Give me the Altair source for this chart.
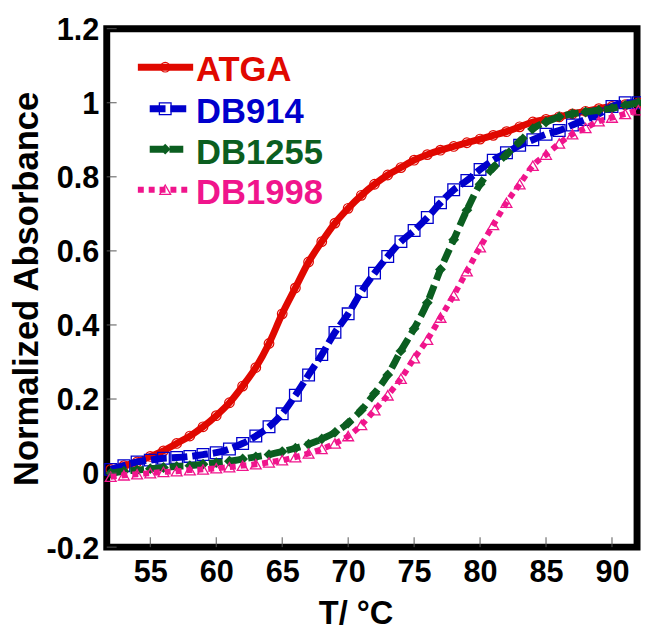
import altair as alt
import pandas as pd

# ---------------- data ----------------
temps = list(range(52, 93))
atga = [0.01, 0.02, 0.03, 0.045, 0.06, 0.08, 0.10, 0.125, 0.155, 0.19,
        0.235, 0.285, 0.35, 0.43, 0.50, 0.57, 0.625, 0.675, 0.715, 0.75,
        0.78, 0.805, 0.825, 0.845, 0.86, 0.872, 0.882, 0.892, 0.902, 0.912,
        0.922, 0.935, 0.948, 0.955, 0.962, 0.97, 0.977, 0.984, 0.99, 0.995, 1.0]
db914 = [0.01, 0.02, 0.03, 0.035, 0.04, 0.042, 0.045, 0.05, 0.055, 0.065,
         0.08, 0.10, 0.125, 0.16, 0.21, 0.265, 0.32, 0.38, 0.43, 0.49,
         0.54, 0.585, 0.625, 0.655, 0.69, 0.73, 0.765, 0.79, 0.82, 0.845,
         0.865, 0.885, 0.90, 0.915, 0.925, 0.94, 0.955, 0.97, 0.99, 1.0, 1.0]
db1255 = [0.0, 0.005, 0.008, 0.012, 0.015, 0.018, 0.02, 0.024, 0.028, 0.032,
          0.038, 0.044, 0.05, 0.058, 0.067, 0.078, 0.092, 0.11, 0.135, 0.17,
          0.215, 0.265, 0.33, 0.39, 0.46, 0.55, 0.63, 0.71, 0.78, 0.825,
          0.86, 0.895, 0.93, 0.948, 0.962, 0.97, 0.975, 0.98, 0.985, 0.993, 1.0]
db1998 = [-0.01, -0.006, -0.003, 0.0, 0.003, 0.005, 0.008, 0.01, 0.013, 0.016,
          0.02, 0.024, 0.029, 0.035, 0.043, 0.053, 0.065, 0.08, 0.10, 0.13,
          0.17, 0.21, 0.255, 0.31, 0.36, 0.42, 0.48, 0.545, 0.61, 0.67,
          0.73, 0.78, 0.83, 0.86, 0.89, 0.915, 0.932, 0.95, 0.96, 0.97, 0.98]

names = ["ATGA", "DB914", "DB1255", "DB1998"]
colors = ["#e00800", "#0000cc", "#0b5e20", "#f0158c"]
x_ticks = [55, 60, 65, 70, 75, 80, 85, 90]
y_ticks = [-0.2, 0, 0.2, 0.4, 0.6, 0.8, 1.0, 1.2]
series = [atga, db914, db1255, db1998]

# ---------------- styling ----------------
FONT = "Liberation Sans"
W, H = 537, 525
xs = alt.Scale(domain=[51.7, 91.9], nice=False, zero=False)
ys = alt.Scale(domain=[-0.2, 1.2], nice=False, zero=False)

styles = {
    "ATGA": dict(dash=None, lw=7, shape="circle", filled=False, size=95, sw=1.2),
    "DB914": dict(dash=[16, 5], lw=7, shape="square", filled=False, size=140, sw=1.3),
    "DB1255": dict(dash=[14, 6], lw=7, shape="diamond", filled=True, size=120, sw=0),
    "DB1998": dict(dash=[6, 5], lw=6, shape="triangle-up", filled=False, size=120, sw=1.3),
}
# legend layout (pixels inside the plot area)
legend_pos = {
    "ATGA": dict(x1=31.5, x2=87.5, ly=39, ty=53),
    "DB914": dict(x1=43.5, x2=85, ly=81, ty=95),
    "DB1255": dict(x1=43.5, x2=81, ly=122, ty=137),
    "DB1998": dict(x1=31.5, x2=85, ly=163, ty=178),
}

common = dict(ticks=False, domain=False, grid=False,
              labelFont=FONT, labelFontSize=31, labelFontWeight="bold",
              labelColor="black", labelFlush=False, labelOverlap=False,
              titleFont=FONT, titleFontWeight="bold", titleColor="black")
x_axis = alt.Axis(values=x_ticks, title="T/ °C", titleX=252, titleY=77,
                  titleAlign="center", titleBaseline="alphabetic",
                  labelPadding=11, titleFontSize=33, **common)
y_axis = alt.Axis(values=y_ticks, title="Normalized Absorbance",
                  labelExpr="datum.value < 0 ? '-' + format(-datum.value, '~g') : format(datum.value, '~g')",
                  labelBaseline="alphabetic", labelOffset=11,
                  titleX=-70.5, titleY=263, titleAngle=270, titleAlign="center",
                  titleBaseline="alphabetic", labelPadding=8, titleFontSize=35,
                  **common)

layers = []
for name, color, vals in zip(names, colors, series):
    st = styles[name]
    df = pd.DataFrame({"T": temps, "A": vals})
    line_kw = dict(color=color, strokeWidth=st["lw"], strokeCap="butt", interpolate="monotone")
    if st["dash"]:
        line_kw["strokeDash"] = st["dash"]
    xe = alt.X("T:Q", scale=xs, axis=x_axis)
    ye = alt.Y("A:Q", scale=ys, axis=y_axis)
    line = alt.Chart(df).mark_line(**line_kw).encode(x=xe, y=ye)
    pt_kw = dict(shape=st["shape"], filled=st["filled"], size=st["size"], color=color, opacity=1)
    if not st["filled"]:
        pt_kw["strokeWidth"] = st["sw"]
    pts = alt.Chart(df).mark_point(**pt_kw).encode(x=xe, y=ye)
    layers += [line, pts]

# inward ticks
xt = alt.Chart(pd.DataFrame({"T": x_ticks})).mark_rule(color="#555", strokeWidth=1).encode(
    x=alt.X("T:Q", scale=xs, axis=x_axis), y=alt.value(H), y2=alt.value(H - 10))
yt = alt.Chart(pd.DataFrame({"A": y_ticks})).mark_rule(color="#555", strokeWidth=1).encode(
    y=alt.Y("A:Q", scale=ys, axis=y_axis), x=alt.value(0), x2=alt.value(10))
layers += [xt, yt]

# legend
for name, color in zip(names, colors):
    st = styles[name]
    lp = legend_pos[name]
    one = pd.DataFrame({"n": [name]})
    rule_kw = dict(color=color, strokeWidth=st["lw"], strokeCap="butt")
    if st["dash"]:
        rule_kw["strokeDash"] = st["dash"]
    lr = alt.Chart(one).mark_rule(**rule_kw).encode(
        x=alt.value(lp["x1"]), x2=alt.value(lp["x2"]), y=alt.value(lp["ly"]))
    pt_kw = dict(shape=st["shape"], filled=st["filled"], size=st["size"], color=color, opacity=1)
    if not st["filled"]:
        pt_kw["strokeWidth"] = st["sw"]
    lm = alt.Chart(one).mark_point(**pt_kw).encode(x=alt.value(59.2), y=alt.value(lp["ly"]))
    lt = alt.Chart(one).mark_text(align="left", baseline="alphabetic", font=FONT,
                                  fontSize=35, fontWeight="bold", color=color).encode(
        x=alt.value(90.5), y=alt.value(lp["ty"]), text="n:N")
    layers += [lr, lm, lt]

chart = alt.layer(*layers).properties(
    width=W, height=H,
    autosize=alt.AutoSizeParams(type="none"),
    padding={"left": 100, "top": 17, "right": 4, "bottom": 85},
).configure(font=FONT).configure_view(stroke="black", strokeWidth=7)

chart.save("out.html", embed_options={"renderer": "svg", "actions": False})
